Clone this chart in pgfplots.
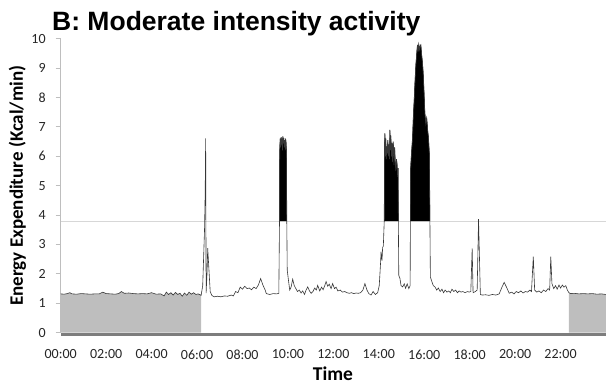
\documentclass[border=0pt]{standalone}
\usepackage{pgfplots}
\pgfplotsset{compat=1.18}
\usepackage{fontspec}
\setmainfont{Carlito}
\newfontfamily\titlefont{Liberation Sans}
\definecolor{sleepgrey}{RGB}{190,190,190}
\definecolor{bargrey}{RGB}{125,125,125}
\definecolor{axgrey}{RGB}{190,190,190}
\definecolor{thrgrey}{RGB}{215,215,215}
\definecolor{linegrey}{RGB}{55,55,55}
\begin{document}
\begin{tikzpicture}
\begin{axis}[
  at={(0,0)}, anchor=south west,
  scale only axis, width=545.3pt, height=294pt,
  xmin=0, xmax=24, ymin=0, ymax=10,
  clip=false,
  axis x line=bottom, axis y line=left,
  x axis line style={draw=none,-},
  y axis line style={draw=axgrey,-, line width=0.8pt},
  ytick={0,1,...,10},
  xtick={0,2,...,22},
  xticklabels={00:00,02:00,04:00,06:00,08:00,10:00,12:00,14:00,16:00,18:00,20:00,22:00},
  tick align=outside, major tick length=5pt,
  ytick style={draw=axgrey, line width=0.8pt},
  xtick style={draw=none},
  ticklabel style={font=\fontsize{14}{15}\selectfont, text=black!85},
  /pgf/number format/assume math mode=true,
  yticklabel style={xshift=-6.5pt},
  xticklabel style={yshift=-8.5pt},
]
% threshold line
\addplot[color=thrgrey, line width=0.8pt] coordinates {(0,3.8) (24,3.8)};
% sleep areas
\addplot[fill=sleepgrey, draw=none] coordinates {
(0.00,1.32) (0.15,1.31) (0.30,1.33) (0.40,1.36) (0.50,1.32) (0.70,1.31) (0.90,1.33) (1.10,1.32) (1.30,1.31) (1.50,1.32) (1.70,1.32) (1.85,1.38) (2.00,1.33) (2.20,1.32) (2.40,1.31) (2.55,1.33) (2.67,1.40) (2.80,1.34) (3.00,1.35) (3.20,1.33) (3.40,1.32) (3.60,1.33) (3.80,1.32) (4.00,1.36) (4.20,1.31) (4.40,1.32) (4.55,1.25) (4.65,1.38) (4.75,1.30) (4.85,1.36) (4.95,1.28) (5.05,1.37) (5.15,1.30) (5.25,1.34) (5.35,1.24) (5.45,1.35) (5.55,1.27) (5.65,1.38) (5.75,1.31) (5.85,1.36) (5.95,1.30) (6.05,1.32) (6.18,1.27)
} \closedcycle;
\addplot[fill=sleepgrey, draw=none] coordinates {
(22.37,1.36) (22.45,1.33) (22.60,1.34) (22.80,1.32) (23.00,1.33) (23.20,1.32) (23.40,1.33) (23.60,1.31) (23.80,1.32) (24.00,1.30)
} \closedcycle;
% moderate intensity (above 3.8) areas
\addplot[fill=black, draw=black, line width=0.4pt] coordinates {
(9.63,3.8) (9.64,6.2) (9.66,6.6) (9.68,6.3) (9.70,6.65) (9.72,6.4) (9.74,6.6) (9.76,6.2) (9.78,6.68) (9.80,6.5) (9.82,6.62) (9.84,6.3) (9.86,6.55) (9.88,6.2) (9.90,6.6) (9.92,6.45) (9.94,6.0) (9.95,3.8)
} -- cycle;
\addplot[fill=black, draw=black, line width=0.4pt] coordinates {
(14.24,3.8) (14.25,6.2) (14.27,6.78) (14.29,6.0) (14.31,6.6) (14.33,5.9) (14.35,6.33) (14.37,6.1) (14.40,6.55) (14.42,6.0) (14.44,6.4) (14.47,5.9) (14.49,6.9) (14.51,6.2) (14.53,6.7) (14.56,6.0) (14.58,6.44) (14.60,5.8) (14.63,6.5) (14.65,6.21) (14.67,5.7) (14.70,6.3) (14.72,5.87) (14.75,5.5) (14.78,5.9) (14.80,5.77) (14.83,5.3) (14.85,5.6) (14.86,3.8)
} -- cycle;
\addplot[fill=black, draw=black, line width=0.4pt] coordinates {
(15.39,3.8) (15.40,5.53) (15.43,6.00) (15.46,6.33) (15.49,6.7) (15.52,7.35) (15.55,7.8) (15.58,8.3) (15.61,8.82) (15.64,9.2) (15.67,9.5) (15.70,9.79) (15.73,9.55) (15.76,9.8) (15.79,9.62) (15.82,9.75) (15.85,9.79) (15.88,9.5) (15.91,9.28) (15.94,9.0) (15.97,8.6) (16.00,8.0) (16.03,7.46) (16.07,7.1) (16.11,7.3) (16.15,6.9) (16.19,6.6) (16.23,6.0) (16.25,3.8)
} -- cycle;
% energy expenditure line
\addplot[color=linegrey, line width=0.6pt] coordinates {
(0.00,1.32) (0.15,1.31) (0.30,1.33) (0.40,1.36) (0.50,1.32) (0.70,1.31) (0.90,1.33) (1.10,1.32) (1.30,1.31) (1.50,1.32) (1.70,1.32) (1.85,1.38) (2.00,1.33) (2.20,1.32) (2.40,1.31) (2.55,1.33) (2.67,1.40) (2.80,1.34) (3.00,1.35) (3.20,1.33) (3.40,1.32) (3.60,1.33) (3.80,1.32) (4.00,1.36) (4.20,1.31) (4.40,1.32) (4.55,1.25) (4.65,1.38) (4.75,1.30) (4.85,1.36) (4.95,1.28) (5.05,1.37) (5.15,1.30) (5.25,1.34) (5.35,1.24) (5.45,1.35) (5.55,1.27) (5.65,1.38) (5.75,1.31) (5.85,1.36) (5.95,1.30) (6.05,1.32) (6.18,1.27)
(6.25,1.6) (6.33,3.5) (6.36,4.8) (6.38,6.61) (6.40,1.35) (6.44,2.0) (6.47,2.88) (6.52,2.2) (6.58,1.4) (6.65,1.27)
(6.75,1.22) (6.90,1.24) (7.05,1.22) (7.20,1.25) (7.35,1.24) (7.50,1.28) (7.60,1.25) (7.70,1.40) (7.80,1.36) (7.90,1.55) (8.00,1.48) (8.10,1.58) (8.20,1.50) (8.30,1.52) (8.40,1.46) (8.50,1.55) (8.60,1.50) (8.70,1.62) (8.80,1.84) (8.90,1.62) (9.00,1.45) (9.05,1.33) (9.20,1.30) (9.35,1.33) (9.50,1.32) (9.60,1.34)
(9.63,3.8) (9.64,6.2) (9.66,6.6) (9.68,6.3) (9.70,6.65) (9.72,6.4) (9.74,6.6) (9.76,6.2) (9.78,6.68) (9.80,6.5) (9.82,6.62) (9.84,6.3) (9.86,6.55) (9.88,6.2) (9.90,6.6) (9.92,6.45) (9.94,6.0) (9.95,3.8)
(9.97,2.13) (10.03,1.75) (10.08,1.45) (10.14,1.55) (10.21,1.82) (10.28,1.60) (10.35,1.50) (10.42,1.40) (10.50,1.45) (10.58,1.35) (10.65,1.42) (10.73,1.30) (10.80,1.45) (10.87,1.56) (10.95,1.42) (11.02,1.34) (11.10,1.40) (11.18,1.52) (11.25,1.45) (11.31,1.61) (11.40,1.42) (11.48,1.55) (11.55,1.46) (11.62,1.60) (11.68,1.74) (11.75,1.58) (11.82,1.65) (11.90,1.50) (11.97,1.67) (12.05,1.50) (12.12,1.55) (12.20,1.42) (12.30,1.45) (12.40,1.38) (12.50,1.40) (12.60,1.36) (12.70,1.34) (12.80,1.36) (12.90,1.33) (13.00,1.35) (13.10,1.34) (13.20,1.36) (13.30,1.45) (13.39,1.67) (13.48,1.45) (13.56,1.33) (13.66,1.28) (13.75,1.40) (13.85,1.30) (13.95,1.36) (14.02,1.60) (14.08,2.40) (14.10,2.76) (14.14,2.45) (14.17,2.90) (14.20,2.95)
(14.24,3.8) (14.25,6.2) (14.27,6.78) (14.29,6.0) (14.31,6.6) (14.33,5.9) (14.35,6.33) (14.37,6.1) (14.40,6.55) (14.42,6.0) (14.44,6.4) (14.47,5.9) (14.49,6.9) (14.51,6.2) (14.53,6.7) (14.56,6.0) (14.58,6.44) (14.60,5.8) (14.63,6.5) (14.65,6.21) (14.67,5.7) (14.70,6.3) (14.72,5.87) (14.75,5.5) (14.78,5.9) (14.80,5.77) (14.83,5.3) (14.85,5.6) (14.86,3.8)
(14.88,1.95) (14.93,1.85) (14.98,1.60) (15.05,1.56) (15.12,1.66) (15.18,1.51) (15.25,1.66) (15.32,1.50) (15.38,1.60)
(15.39,3.8) (15.40,5.53) (15.43,6.00) (15.46,6.33) (15.49,6.7) (15.52,7.35) (15.55,7.8) (15.58,8.3) (15.61,8.82) (15.64,9.2) (15.67,9.5) (15.70,9.79) (15.73,9.55) (15.76,9.8) (15.79,9.62) (15.82,9.75) (15.85,9.79) (15.88,9.5) (15.91,9.28) (15.94,9.0) (15.97,8.6) (16.00,8.0) (16.03,7.46) (16.07,7.1) (16.11,7.3) (16.15,6.9) (16.19,6.6) (16.23,6.0) (16.25,3.8)
(16.27,1.90) (16.33,1.75) (16.40,1.60) (16.47,1.56) (16.55,1.45) (16.62,1.52) (16.70,1.40) (16.78,1.48) (16.85,1.36) (16.92,1.45) (17.00,1.38) (17.08,1.42) (17.15,1.36) (17.22,1.48) (17.30,1.40) (17.38,1.45) (17.46,1.36) (17.54,1.42) (17.62,1.38) (17.70,1.40) (17.80,1.36) (17.90,1.40) (17.98,1.38) (18.05,1.40) (18.11,2.87) (18.15,1.36) (18.25,1.40) (18.33,1.45) (18.39,3.86) (18.47,1.30) (18.55,1.28) (18.70,1.29) (18.85,1.27) (19.00,1.30) (19.15,1.28) (19.30,1.32) (19.42,1.55) (19.52,1.71) (19.62,1.55) (19.74,1.34) (19.85,1.38) (19.95,1.32) (20.05,1.40) (20.15,1.36) (20.25,1.42) (20.35,1.35) (20.45,1.40) (20.55,1.38) (20.65,1.45) (20.72,1.40) (20.80,2.59) (20.86,1.45) (20.95,1.38) (21.05,1.42) (21.15,1.36) (21.25,1.45) (21.35,1.40) (21.45,1.50) (21.52,1.45) (21.57,2.59) (21.62,1.67) (21.70,1.50) (21.78,1.60) (21.85,1.48) (21.93,1.62) (22.00,1.52) (22.08,1.62) (22.15,1.55) (22.23,1.60) (22.30,1.45)
(22.37,1.36) (22.45,1.33) (22.60,1.34) (22.80,1.32) (23.00,1.33) (23.20,1.32) (23.40,1.33) (23.60,1.31) (23.80,1.32) (24.00,1.30)
};
% bottom bar
\addplot[fill=bargrey, draw=none] coordinates {(0,0) (24,0) (24,-0.115) (0,-0.115)} -- cycle;
\end{axis}
\node[anchor=base west, font=\titlefont\bfseries\fontsize{26.5}{28}\selectfont, inner sep=0pt] at (-8.7pt,301.7pt) {B: Moderate intensity activity};
\node[anchor=base, rotate=90, font=\bfseries\fontsize{19}{20}\selectfont, inner sep=0pt] at (-37.7pt,147pt) {Energy Expenditure (Kcal/min)};
\node[anchor=base, font=\bfseries\fontsize{19.5}{20}\selectfont, inner sep=0pt] at (272.3pt,-47.5pt) {Time};
\pgfresetboundingbox
\path[use as bounding box] (-60.7pt,-52.3pt) rectangle (545.3pt,332.7pt);
\end{tikzpicture}
\end{document}
